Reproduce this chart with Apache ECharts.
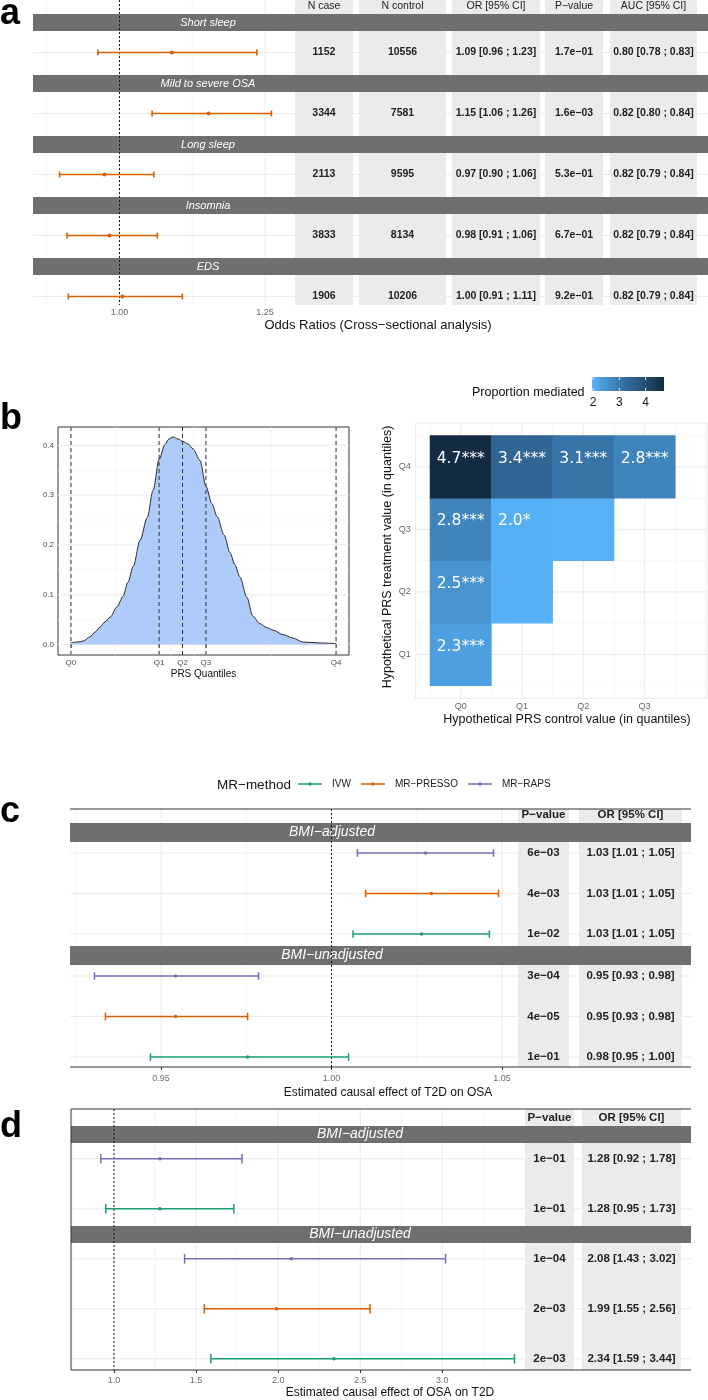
<!DOCTYPE html>
<html>
<head>
<meta charset="utf-8">
<script src="https://cdn.jsdelivr.net/npm/echarts@6.0.0/dist/echarts.min.js"></script>
<style>
html,body{margin:0;padding:0;background:#fff;}
#chart{width:708px;height:1400px;}
</style>
</head>
<body>
<div id="chart"></div>
<script>
const M = '\u2212';
// ================= DATA =================
// Panel a : cross-sectional forest plot + table
const aOutcomes = ['Short sleep', 'Mild to severe OSA', 'Long sleep', 'Insomnia', 'EDS'];
const aOR = [1.090, 1.153, 0.974, 0.983, 1.005];
const aLo = [0.963, 1.056, 0.897, 0.910, 0.912];
const aHi = [1.236, 1.261, 1.059, 1.065, 1.108];
const aHeaders = ['N case', 'N control', 'OR [95% CI]', 'P' + M + 'value', 'AUC [95% CI]'];
const aNCase = ['1152', '3344', '2113', '3833', '1906'];
const aNControl = ['10556', '7581', '9595', '8134', '10206'];
const aORText = ['1.09 [0.96 ; 1.23]', '1.15 [1.06 ; 1.26]', '0.97 [0.90 ; 1.06]', '0.98 [0.91 ; 1.06]', '1.00 [0.91 ; 1.11]'];
const aPText = ['1.7e' + M + '01', '1.6e' + M + '03', '5.3e' + M + '01', '6.7e' + M + '01', '9.2e' + M + '01'];
const aAUCText = ['0.80 [0.78 ; 0.83]', '0.82 [0.80 ; 0.84]', '0.82 [0.79 ; 0.84]', '0.82 [0.79 ; 0.84]', '0.82 [0.79 ; 0.84]'];
const aTicks = [1.00, 1.25];
const aMinor = [0.875, 1.125];

// Panel b left : PRS density
const densX = [-3.19,-3.01,-2.84,-2.64,-2.50,-2.36,-2.21,-2.07,-1.87,-1.70,-1.56,-1.41,-1.21,-1.01,-0.84,-0.67,-0.50,-0.39,-0.27,-0.13,0.01,0.16,0.30,0.50,0.67,0.84,0.99,1.19,1.36,1.50,1.64,1.84,2.01,2.21,2.41,2.59,2.87,3.16,3.44,3.73,4.01,4.39];
const densY = [0.004,0.005,0.007,0.016,0.025,0.035,0.046,0.055,0.076,0.097,0.125,0.157,0.210,0.255,0.310,0.372,0.402,0.413,0.417,0.413,0.408,0.403,0.393,0.370,0.318,0.283,0.257,0.220,0.184,0.160,0.136,0.095,0.057,0.042,0.034,0.029,0.020,0.013,0.005,0.004,0.003,0.002];
const quantNames = ['Q0', 'Q1', 'Q2', 'Q3', 'Q4'];
const quantVals = [-3.19, -0.67, 0.0, 0.67, 4.39];
const densYTicks = [0.0, 0.1, 0.2, 0.3, 0.4];

// Panel b right : proportion mediated heatmap
const hmControl = [0, 0, 0, 0, 1, 1, 1, 2, 2, 3];
const hmTreat   = [1, 2, 3, 4, 2, 3, 4, 3, 4, 4];
const hmValue   = [2.3, 2.5, 2.8, 4.7, 1.97, 2.0, 3.4, 1.96, 3.1, 2.8];
const hmStars   = ['***', '***', '***', '***', '', '*', '***', '', '***', '***'];
const hmXTicks = [0, 1, 2, 3];
const hmXLabels = ['Q0', 'Q1', 'Q2', 'Q3'];
const hmYTicks = [1, 2, 3, 4];
const hmYLabels = ['Q1', 'Q2', 'Q3', 'Q4'];
const hmLegendTicks = [2, 3, 4];

// Panel c : T2D -> OSA
const cGroups = ['BMI' + M + 'adjusted', 'BMI' + M + 'unadjusted'];
const cGroup  = [0, 0, 0, 1, 1, 1];
const cMethod = ['MR' + M + 'RAPS', 'MR' + M + 'PRESSO', 'IVW', 'MR' + M + 'RAPS', 'MR' + M + 'PRESSO', 'IVW'];
const cOR = [1.0276, 1.0293, 1.0264, 0.9543, 0.9543, 0.9754];
const cLo = [1.0076, 1.0100, 1.0063, 0.9305, 0.9337, 0.9469];
const cHi = [1.0475, 1.0490, 1.0463, 0.9786, 0.9754, 1.0050];
const cPText = ['6e' + M + '03', '4e' + M + '03', '1e' + M + '02', '3e' + M + '04', '4e' + M + '05', '1e' + M + '01'];
const cORText = ['1.03 [1.01 ; 1.05]', '1.03 [1.01 ; 1.05]', '1.03 [1.01 ; 1.05]', '0.95 [0.93 ; 0.98]', '0.95 [0.93 ; 0.98]', '0.98 [0.95 ; 1.00]'];
const cTicks = [0.95, 1.00, 1.05];
const cMinor = [0.925, 0.975, 1.025];

// Panel d : OSA -> T2D
const dGroup  = [0, 0, 1, 1, 1];
const dMethod = ['MR' + M + 'RAPS', 'IVW', 'MR' + M + 'RAPS', 'MR' + M + 'PRESSO', 'IVW'];
const dOR = [1.28, 1.28, 2.08, 1.99, 2.34];
const dLo = [0.92, 0.95, 1.43, 1.55, 1.59];
const dHi = [1.78, 1.73, 3.02, 2.56, 3.44];
const dPText = ['1e' + M + '01', '1e' + M + '01', '1e' + M + '04', '2e' + M + '03', '2e' + M + '03'];
const dORText = ['1.28 [0.92 ; 1.78]', '1.28 [0.95 ; 1.73]', '2.08 [1.43 ; 3.02]', '1.99 [1.55 ; 2.56]', '2.34 [1.59 ; 3.44]'];
const dTicks = [1.0, 1.5, 2.0, 2.5, 3.0];
const dMinor = [0.75, 1.25, 1.75, 2.25, 2.75, 3.25];

const methods = ['IVW', 'MR' + M + 'PRESSO', 'MR' + M + 'RAPS'];

// ================= STYLE =================
const FONT = '"Liberation Sans", Arial, Helvetica, sans-serif';
const METHOD_COLORS = {'IVW': '#1B9E77'};
METHOD_COLORS['MR' + M + 'PRESSO'] = '#D95F02';
METHOD_COLORS['MR' + M + 'RAPS'] = '#7570B3';
const A_COLOR = '#D95F02';
const GRID_MAJ = '#ebebeb', GRID_MIN = '#f3f3f3';
const STRIP = '#6f6f6f', COLBG = '#ebebeb';
const HM_COLORS = ['#56B1F7', '#448CC7', '#336898', '#244E71', '#132B43'];
const HM_MIN = 1.96, HM_MAX = 4.7;

// ================= BUILDERS =================
const grids = [], xAxes = [], yAxes = [], series = [], graphics = [];
function addGrid(rect, xa, ya, extra) {
  const i = grids.length;
  grids.push(Object.assign({left: rect[0], top: rect[1], width: rect[2], height: rect[3], containLabel: false, outerBoundsMode: 'none'}, extra || {}));
  xAxes.push(Object.assign({gridIndex: i}, xa));
  yAxes.push(Object.assign({gridIndex: i}, ya));
  return i;
}
function idAxis(min, max, inv) {
  return {type: 'value', min: min, max: max, inverse: !!inv, show: false, splitLine: {show: false}};
}
function txtStyle(text, fill, font, align, valign) {
  return {text: text, fill: fill, font: font, align: align || 'center', verticalAlign: valign || 'middle',
          textAlign: align || 'center', textVerticalAlign: valign || 'middle'};
}
function gtext(x, y, text, font, opt) {
  opt = opt || {};
  graphics.push({type: 'text', x: x, y: y, rotation: opt.rotation || 0, silent: true,
                 style: txtStyle(text, opt.fill || '#000', font, opt.align, opt.valign)});
}
function pushCustom(gi, z, data, render, extra) {
  const s = Object.assign({type: 'custom', xAxisIndex: gi, yAxisIndex: gi, z: z, silent: true, clip: false,
                           animation: false, data: data, renderItem: render}, extra || {});
  series.push(s);
  return series.length - 1;
}
function gridLines(gi, cfg) {
  pushCustom(gi, 1, [[0, 0]], function (p, api) {
    const cs = p.coordSys; const ch = [];
    function add(vals, isX, color, w) {
      (vals || []).forEach(function (v) {
        if (isX) {
          const x = api.coord([v, 0])[0];
          if (x < cs.x - 0.6 || x > cs.x + cs.width + 0.6) return;
          ch.push({type: 'line', shape: {x1: x, y1: cs.y, x2: x, y2: cs.y + cs.height}, style: {stroke: color, lineWidth: w}});
        } else {
          const y = api.coord([0, v])[1];
          if (y < cs.y - 0.6 || y > cs.y + cs.height + 0.6) return;
          ch.push({type: 'line', shape: {x1: cs.x, y1: y, x2: cs.x + cs.width, y2: y}, style: {stroke: color, lineWidth: w}});
        }
      });
    }
    add(cfg.xMinor, true, GRID_MIN, 0.7); add(cfg.yMinor, false, GRID_MIN, 0.7);
    add(cfg.xMajor, true, GRID_MAJ, 1); add(cfg.yMajor, false, GRID_MAJ, 1);
    return {type: 'group', children: ch};
  });
}
function vline(gi, value, dash, color, z) {
  pushCustom(gi, z, [[value, 0]], function (p, api) {
    const cs = p.coordSys; const x = api.coord([api.value(0), 0])[0];
    return {type: 'line', shape: {x1: x, y1: cs.y, x2: x, y2: cs.y + cs.height},
            style: {stroke: color, lineWidth: 1, lineDash: dash}};
  });
}
function errRender(capHalf, lw, r) {
  return function (p, api) {
    const y = api.value(3);
    const m = api.coord([api.value(0), y]);
    const lo = api.coord([api.value(1), y]);
    const hi = api.coord([api.value(2), y]);
    const color = api.visual('color');
    function st() { return {stroke: color, lineWidth: lw}; }
    return {type: 'group', children: [
      {type: 'line', shape: {x1: lo[0], y1: lo[1], x2: hi[0], y2: hi[1]}, style: st()},
      {type: 'line', shape: {x1: lo[0], y1: lo[1] - capHalf, x2: lo[0], y2: lo[1] + capHalf}, style: st()},
      {type: 'line', shape: {x1: hi[0], y1: hi[1] - capHalf, x2: hi[0], y2: hi[1] + capHalf}, style: st()},
      {type: 'circle', shape: {cx: m[0], cy: m[1], r: r}, style: {fill: color}}
    ]};
  };
}
function forestAxis(min, max, ticks, digits, showTicks, margin) {
  return {type: 'value', min: min, max: max, splitLine: {show: false}, axisLine: {show: false},
    axisTick: {show: showTicks, customValues: ticks, length: 3, lineStyle: {color: '#333', width: 1}},
    axisLabel: {customValues: ticks, formatter: function (v) { return Number(v).toFixed(digits); },
                fontSize: 9, color: '#6b6b6b', margin: margin, fontFamily: FONT}};
}
// layout helpers on the page canvas
function rowLines(gi, L, R, ys) {
  pushCustom(gi, 1, ys.map(function (y) { return [L, y]; }), function (p, api) {
    const y = api.value(1); const a = api.coord([L, y]), b = api.coord([R, y]);
    return {type: 'line', shape: {x1: a[0], y1: a[1], x2: b[0], y2: b[1]}, style: {stroke: GRID_MAJ, lineWidth: 1}};
  });
}
function table(gi, cols, top, bottom, headerY, headers, colData, rowY, headBold, valBold, size) {
  pushCustom(gi, 2, cols.map(function (c) { return [c[0], top, c[1], bottom]; }), function (p, api) {
    const a = api.coord([api.value(0), api.value(1)]), b = api.coord([api.value(2), api.value(3)]);
    return {type: 'rect', shape: {x: a[0], y: a[1], width: b[0] - a[0], height: b[1] - a[1]}, style: {fill: COLBG}};
  });
  const items = [], texts = [], bolds = [];
  cols.forEach(function (c, ci) {
    const cx = (c[0] + c[1]) / 2;
    items.push([cx, headerY]); texts.push(headers[ci]); bolds.push(headBold);
    colData[ci].forEach(function (t, ri) { items.push([cx, rowY(ri)]); texts.push(t); bolds.push(valBold); });
  });
  pushCustom(gi, 3, items, function (p, api) {
    const q = api.coord([api.value(0), api.value(1)]);
    const f = (bolds[p.dataIndex] ? 'bold ' : '') + size + 'px ' + FONT;
    return {type: 'text', x: q[0], y: q[1], style: txtStyle(texts[p.dataIndex], '#222', f)};
  });
}
function strips(gi, L, R, labels, yOf, h, textX, size) {
  pushCustom(gi, 4, labels.map(function (_, k) { return [L, yOf(k)]; }), function (p, api) {
    const y = api.value(1);
    const a = api.coord([L, y - h / 2]), b = api.coord([R, y + h / 2]), t = api.coord([textX, y]);
    return {type: 'group', children: [
      {type: 'rect', shape: {x: a[0], y: a[1], width: b[0] - a[0], height: b[1] - a[1]}, style: {fill: STRIP}},
      {type: 'text', x: t[0], y: t[1], style: txtStyle(labels[p.dataIndex], '#fff', 'italic ' + size + 'px ' + FONT)}
    ]};
  });
}
function frame(gi, segs) {
  pushCustom(gi, 5, segs, function (p, api) {
    const a = api.coord([api.value(0), api.value(1)]), b = api.coord([api.value(2), api.value(3)]);
    return {type: 'line', shape: {x1: a[0], y1: a[1], x2: b[0], y2: b[1]}, style: {stroke: '#333', lineWidth: 1}};
  });
}

// page canvas (identity pixel axes) for strips, tables and frames
const gPage = addGrid([0, 0, 708, 1400], idAxis(0, 708), idAxis(0, 1400, true));

// ================= PANEL a =================
const aRowY = function (k) { return 52.5 + 61 * k; };
const aStripY = function (k) { return 22.5 + 61 * k; };
const aCols = [[295, 353], [359, 446], [452, 540], [545, 603], [610, 697]];
rowLines(gPage, 33, 708, aOutcomes.map(function (_, k) { return aRowY(k); }));
table(gPage, aCols, 0, 305, 6, aHeaders, [aNCase, aNControl, aORText, aPText, aAUCText], aRowY, false, true, 10.5);
strips(gPage, 33, 708, aOutcomes, aStripY, 17, 208, 11);
const aMin = 1 - (119.5 - 33) / 582, aMax = aMin + 262 / 582;
const gA = addGrid([33, 0, 262, 305], forestAxis(aMin, aMax, aTicks, 2, false, 3), idAxis(0, 305, true));
gridLines(gA, {xMajor: aTicks, xMinor: aMinor});
vline(gA, 1, [2, 2], '#1a1a1a', 5);
pushCustom(gA, 6, aOR.map(function (v, i) { return [v, aLo[i], aHi[i], aRowY(i)]; }), errRender(3, 1.6, 2),
           {itemStyle: {color: A_COLOR}});
gtext(0, 14, 'a', 'bold 36px ' + FONT, {align: 'left'});
gtext(378, 325, 'Odds Ratios (Cross' + M + 'sectional analysis)', '13px ' + FONT, {fill: '#111'});

// ================= PANEL b : density =================
const gB = addGrid([58, 427, 291, 228], {
  type: 'value', min: -3.56, max: 4.76, splitLine: {show: false}, axisLine: {show: false},
  axisTick: {show: true, customValues: quantVals, length: 3, lineStyle: {color: '#333'}},
  axisLabel: {customValues: quantVals, fontSize: 8, color: '#4d4d4d', margin: 4, fontFamily: FONT,
    formatter: function (v) { let best = 0; quantVals.forEach(function (q, i) { if (Math.abs(q - v) < Math.abs(quantVals[best] - v)) best = i; }); return quantNames[best]; }}
}, {
  type: 'value', min: -0.021, max: 0.437, splitLine: {show: false}, axisLine: {show: false},
  axisTick: {show: true, customValues: densYTicks, length: 3, lineStyle: {color: '#333'}},
  axisLabel: {customValues: densYTicks, fontSize: 8, color: '#4d4d4d', margin: 4, fontFamily: FONT,
    formatter: function (v) { return Number(v).toFixed(1); }}
}, {show: true, borderColor: '#333', borderWidth: 1, backgroundColor: '#fff'});
const qMid = []; for (let i = 0; i < quantVals.length - 1; i++) qMid.push((quantVals[i] + quantVals[i + 1]) / 2);
gridLines(gB, {xMajor: quantVals, xMinor: qMid, yMajor: densYTicks, yMinor: [0.05, 0.15, 0.25, 0.35]});
series.push({type: 'line', xAxisIndex: gB, yAxisIndex: gB, z: 2, silent: true, animation: false,
  data: densX.map(function (x, i) { return [x, densY[i]]; }), showSymbol: false, smooth: 0.3, smoothMonotone: 'x',
  lineStyle: {color: '#1a1a1a', width: 0.9}, areaStyle: {color: '#aecbfa', opacity: 1}});
quantVals.forEach(function (q) { vline(gB, q, [4, 3], '#333', 3); });
gtext(0, 419, 'b', 'bold 36px ' + FONT, {align: 'left'});
gtext(203.5, 674, 'PRS Quantiles', '10px ' + FONT, {fill: '#111'});

// ================= PANEL b : heatmap =================
const gH = addGrid([415.7, 423, 292.3, 275.3], {
  type: 'value', min: -0.734, max: 4.034, splitLine: {show: false}, axisLine: {show: false},
  axisTick: {show: false},
  axisLabel: {customValues: hmXTicks, fontSize: 9, color: '#666', margin: 4, fontFamily: FONT,
    formatter: function (v) { return hmXLabels[hmXTicks.indexOf(Math.round(v))]; }}
}, {
  type: 'value', min: 0.3, max: 4.7, splitLine: {show: false}, axisLine: {show: false},
  axisTick: {show: true, customValues: hmYTicks, length: 3, lineStyle: {color: '#999'}},
  axisLabel: {customValues: hmYTicks, fontSize: 9, color: '#666', margin: 5, fontFamily: FONT,
    formatter: function (v) { return hmYLabels[hmYTicks.indexOf(Math.round(v))]; }}
}, {show: true, borderColor: '#ebebeb', borderWidth: 1});
gridLines(gH, {xMajor: [0, 1, 2, 3, 4], xMinor: [-0.5, 0.5, 1.5, 2.5, 3.5], yMajor: [1, 2, 3, 4], yMinor: [0.5, 1.5, 2.5, 3.5, 4.5]});
const hmSeriesIndex = pushCustom(gH, 2, hmValue.map(function (v, i) { return [hmControl[i], hmTreat[i], v]; }), function (p, api) {
  const c = api.value(0), t = api.value(1);
  const p1 = api.coord([c - 0.5, t + 0.5]), p2 = api.coord([c + 0.5, t - 0.5]);
  const ch = [{type: 'rect', shape: {x: p1[0] - 0.3, y: p1[1] - 0.3, width: p2[0] - p1[0] + 0.6, height: p2[1] - p1[1] + 0.6},
               style: {fill: api.visual('color')}}];
  const s = hmStars[p.dataIndex];
  if (s) {
    let pad = ''; for (let k = s.length; k < 3; k++) pad += '\u2002';
    ch.push({type: 'text', x: (p1[0] + p2[0]) / 2, y: (p1[1] + p2[1]) / 2 - 8,
             style: txtStyle(hmValue[p.dataIndex].toFixed(1) + s + pad, '#fff', '15.5px "DejaVu Sans", sans-serif')});
  }
  return {type: 'group', children: ch};
}, {encode: {x: 0, y: 1}});
// colour bar legend
graphics.push({type: 'rect', silent: true, shape: {x: 592, y: 377, width: 72, height: 14},
  style: {fill: new echarts.graphic.LinearGradient(0, 0, 1, 0, HM_COLORS.map(function (c, i) { return {offset: i / (HM_COLORS.length - 1), color: c}; }))}});
hmLegendTicks.forEach(function (v) {
  const x = 592 + (v - HM_MIN) / (HM_MAX - HM_MIN) * 72;
  graphics.push({type: 'line', silent: true, shape: {x1: x, y1: 377, x2: x, y2: 380}, style: {stroke: '#fff', lineWidth: 0.8}});
  graphics.push({type: 'line', silent: true, shape: {x1: x, y1: 388, x2: x, y2: 391}, style: {stroke: '#fff', lineWidth: 0.8}});
  gtext(x, 403, String(v), '12px ' + FONT, {fill: '#111'});
});
gtext(472, 393, 'Proportion mediated', '12.5px ' + FONT, {align: 'left', fill: '#111'});
gtext(567, 720, 'Hypothetical PRS control value (in quantiles)', '12.5px ' + FONT, {fill: '#111'});
gtext(388, 557, 'Hypothetical PRS treatment value (in quantiles)', '12.5px ' + FONT, {fill: '#111', rotation: Math.PI / 2});

// ================= PANEL c =================
const cStripY = function (g) { return 832.5 + 123 * g; };
const cRowY = function (i) { const g = cGroup[i]; const j = i - cGroup.indexOf(g); return cStripY(g) + 20.5 + 40.5 * j; };
rowLines(gPage, 70, 691, cOR.map(function (_, i) { return cRowY(i); }));
table(gPage, [[518, 569], [579, 682]], 809, 1067, 815, ['P' + M + 'value', 'OR [95% CI]'], [cPText, cORText], cRowY, true, true, 11.5);
strips(gPage, 70, 691, cGroups, cStripY, 19, 332, 14);
frame(gPage, [[70, 809, 691, 809], [70, 1067, 691, 1067]]);
const cMin = 1 - (331.5 - 70) / 3410, cMax = cMin + 448 / 3410;
const gC = addGrid([70, 809, 448, 258], forestAxis(cMin, cMax, cTicks, 2, true, 7), idAxis(809, 1067, true));
gridLines(gC, {xMajor: cTicks, xMinor: cMinor});
vline(gC, 1, [2, 2], '#1a1a1a', 5);
methods.forEach(function (m) {
  const idx = []; cMethod.forEach(function (mm, i) { if (mm === m) idx.push(i); });
  pushCustom(gC, 6, idx.map(function (i) { return [cOR[i], cLo[i], cHi[i], cRowY(i)]; }), errRender(3.8, 1.5, 1.7),
             {name: m, itemStyle: {color: METHOD_COLORS[m]}});
});
gtext(0, 812, 'c', 'bold 36px ' + FONT, {align: 'left'});
gtext(388, 1093, 'Estimated causal effect of T2D on OSA', '12px ' + FONT, {fill: '#111'});
gtext(217, 785, 'MR' + M + 'method', '13.5px ' + FONT, {align: 'left', fill: '#111'});

// ================= PANEL d =================
const dStripY = function (g) { return 1134.5 + 100 * g; };
const dRowY = function (i) { const g = dGroup[i]; const j = i - dGroup.indexOf(g); return dStripY(g) + 24.3 + 50 * j; };
rowLines(gPage, 71, 691, dOR.map(function (_, i) { return dRowY(i); }));
table(gPage, [[525, 574], [582, 681]], 1109, 1370, 1118, ['P' + M + 'value', 'OR [95% CI]'], [dPText, dORText], dRowY, true, true, 11.5);
strips(gPage, 71, 691, cGroups, dStripY, 17, 360, 14);
frame(gPage, [[71, 1109, 691, 1109], [71, 1370, 691, 1370], [71, 1109, 71, 1370]]);
const dMin = 1 - (114 - 71) / 164.15, dMax = dMin + 452 / 164.15;
const gD = addGrid([71, 1109, 452, 261], forestAxis(dMin, dMax, dTicks, 1, true, 6), idAxis(1109, 1370, true));
gridLines(gD, {xMajor: dTicks, xMinor: dMinor});
vline(gD, 1, [2, 2], '#1a1a1a', 5);
methods.forEach(function (m) {
  const idx = []; dMethod.forEach(function (mm, i) { if (mm === m) idx.push(i); });
  pushCustom(gD, 6, idx.map(function (i) { return [dOR[i], dLo[i], dHi[i], dRowY(i)]; }), errRender(4.8, 1.5, 1.8),
             {name: m, itemStyle: {color: METHOD_COLORS[m]}});
});
gtext(0, 1127, 'd', 'bold 36px ' + FONT, {align: 'left'});
gtext(390, 1393, 'Estimated causal effect of OSA on T2D', '12px ' + FONT, {fill: '#111'});

// ================= CHART =================
const ICON = 'path://M0,2.2L24,2.2L24,3.8L0,3.8Z M12,1.2A1.8,1.8,0,1,1,12,4.8A1.8,1.8,0,1,1,12,1.2Z';
const chart = echarts.init(document.getElementById('chart'), null, {renderer: 'canvas'});
chart.setOption({
  animation: false,
  backgroundColor: '#ffffff',
  textStyle: {fontFamily: FONT},
  grid: grids, xAxis: xAxes, yAxis: yAxes,
  legend: {left: 298, top: 779, padding: 0, itemWidth: 24, itemHeight: 5, itemGap: 10, selectedMode: false,
           data: methods.map(function (m) { return {name: m, icon: ICON}; }),
           textStyle: {fontSize: 10, color: '#222', fontFamily: FONT, padding: [0, 0, 0, 5]}},
  visualMap: [{type: 'continuous', show: false, min: HM_MIN, max: HM_MAX, dimension: 2, seriesIndex: hmSeriesIndex,
               inRange: {color: HM_COLORS}}],
  graphic: {elements: graphics},
  series: series
});
</script>
</body>
</html>
